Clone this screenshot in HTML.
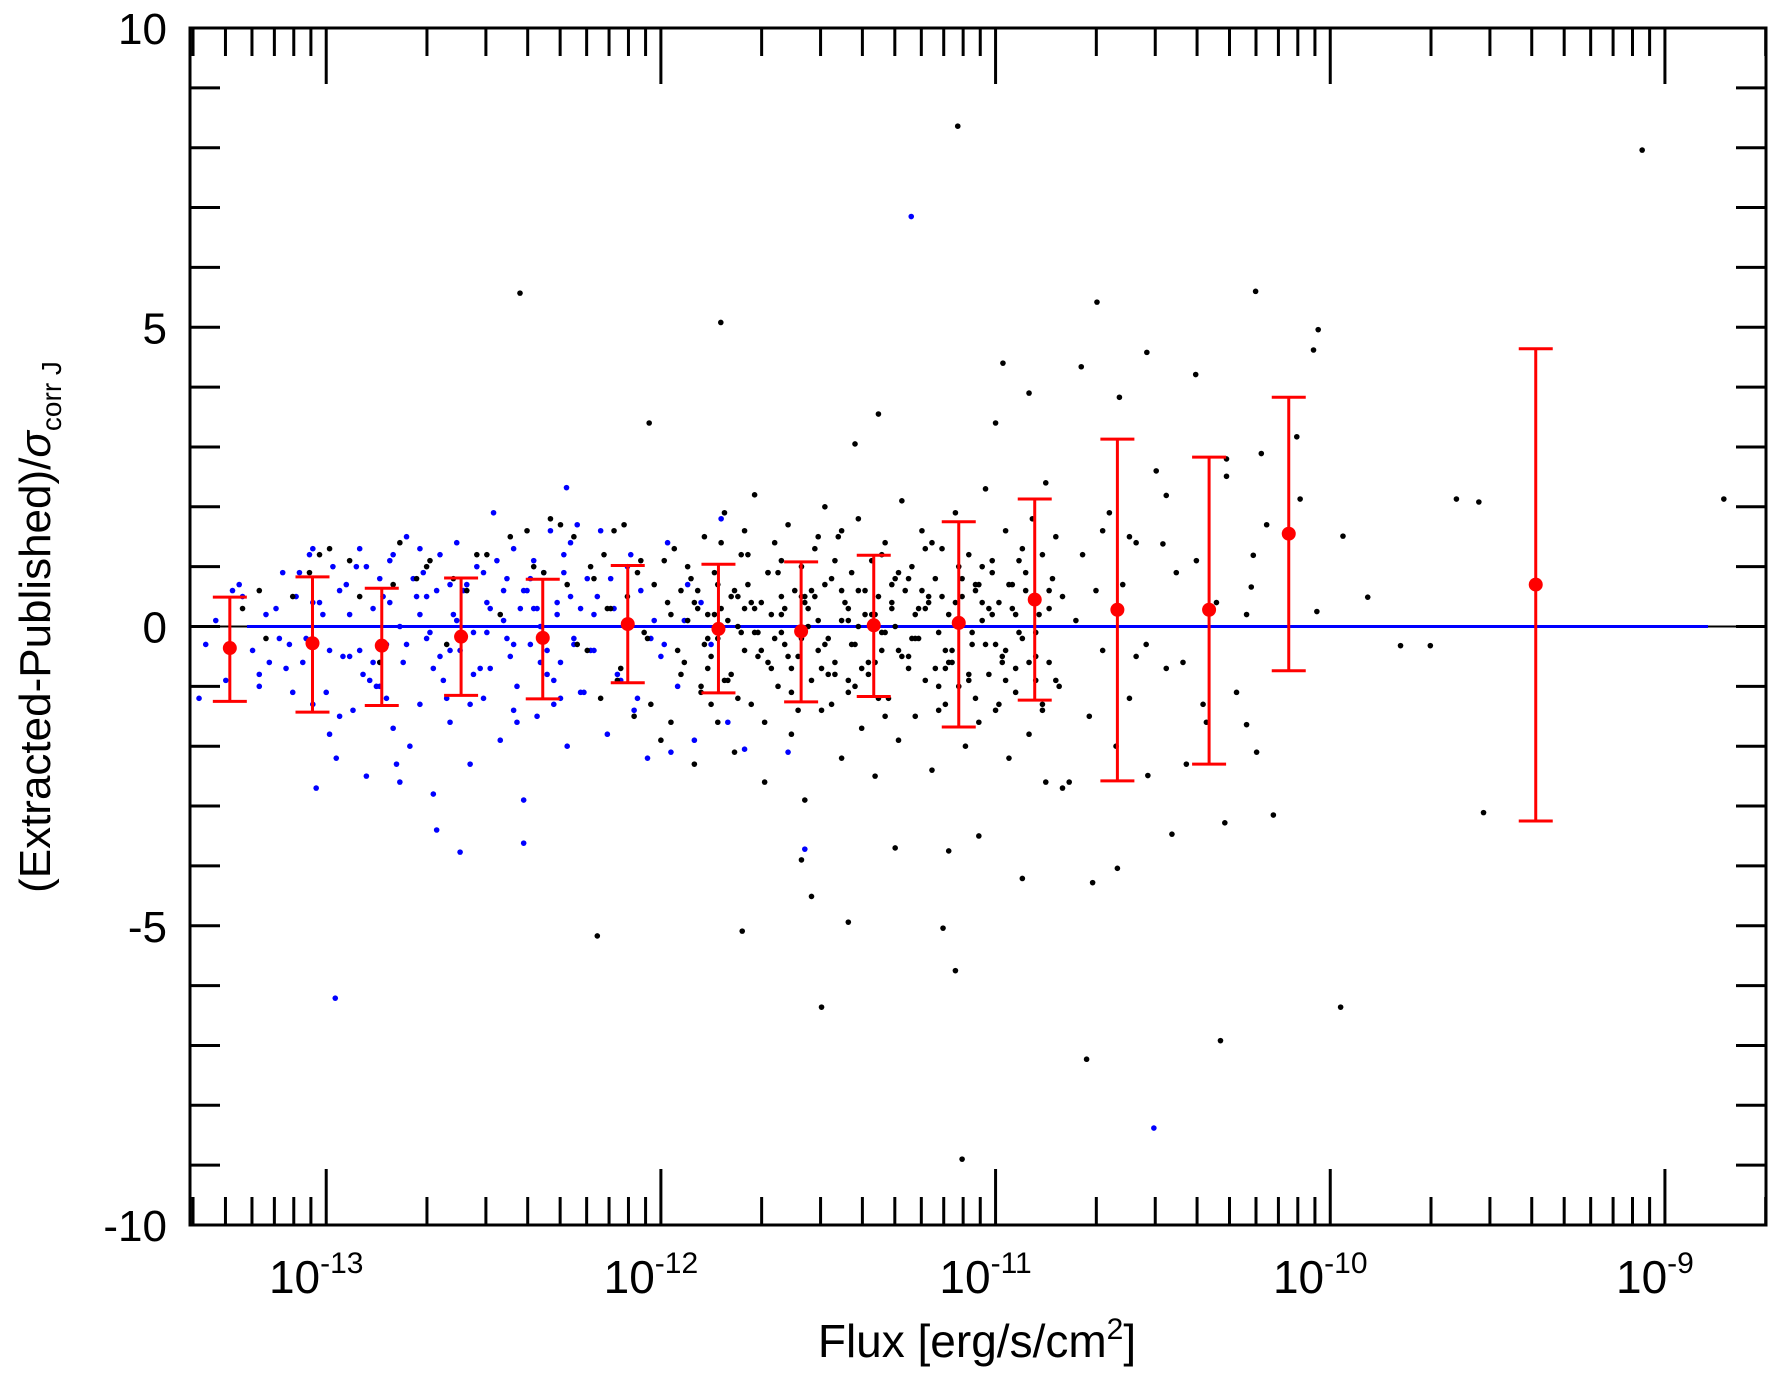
<!DOCTYPE html>
<html><head><meta charset="utf-8"><style>
body{margin:0;background:#fff}
svg{display:block}
text{font-family:"Liberation Sans",sans-serif;fill:#000}
</style></head><body>
<svg id="chart" width="1777" height="1382" viewBox="0 0 1777 1382" xmlns="http://www.w3.org/2000/svg">
<g id="bg"><rect x="0" y="0" width="1777" height="1382" fill="#fff"/></g>
<g id="zero"></g>
<g id="blue"></g>
<g id="black"></g>
<g id="bins"></g>
<g id="axes"></g>
<text x="977" y="1357" font-size="46" text-anchor="middle">Flux [erg/s/cm<tspan dy="-18" font-size="30">2</tspan><tspan dy="18">]</tspan></text>
<text transform="translate(50,627) rotate(-90)" font-size="44" text-anchor="middle">(Extracted-Published)/<tspan font-style="italic">σ</tspan><tspan dy="11" font-size="28">corr J</tspan></text>
</svg>
<script>
// ---- data ----
const binLogFlux=[-13.288,-13.041,-12.834,-12.597,-12.353,-12.099,-11.828,-11.581,-11.364,-11.110,-10.883,-10.636,-10.362,-10.124,-9.386];
const binMean=[-0.36,-0.28,-0.32,-0.17,-0.19,0.04,-0.04,-0.08,0.02,0.06,0.45,0.28,0.28,1.55,0.70];
const binHigh=[0.49,0.83,0.64,0.81,0.79,1.02,1.04,1.08,1.19,1.75,2.13,3.13,2.83,3.83,4.64];
const binLow=[-1.25,-1.43,-1.32,-1.15,-1.21,-0.94,-1.11,-1.26,-1.17,-1.68,-1.23,-2.58,-2.30,-0.74,-3.25];
// blue points as [log10 flux, residual]
const bluePts=[[-13.38,-1.2],[-13.36,-0.3],[-13.33,0.1],[-13.30,-0.9],[-13.28,0.6],[-13.25,0.5],[-13.22,-0.4],[-13.20,-1.0],[-13.18,0.2],[-13.15,0.3],[-13.12,-0.7],[-13.10,-1.1],[-13.08,0.9],[-13.06,-0.2],[-13.05,1.2],[-13.03,-2.7],[-13.02,0.4],[-13.00,-1.1],[-12.98,1.0],[-12.97,-2.2],[-12.95,-0.5],[-12.94,0.7],[-12.92,-1.4],[-12.90,1.3],[-12.89,-0.8],[-12.88,-2.5],[-12.86,0.3],[-12.85,-1.0],[-12.84,0.8],[-12.82,-0.3],[-12.81,1.1],[-12.80,-1.7],[-12.78,0.0],[-12.77,-0.6],[-12.76,1.5],[-12.75,-2.0],[-12.73,0.5],[-12.72,-1.3],[-12.71,0.9],[-12.70,-0.2],[-12.68,-2.8],[-12.67,0.6],[-12.66,1.2],[-12.65,-0.9],[-12.63,-1.6],[-12.62,0.2],[-12.61,1.4],[-12.60,-0.4],[-12.58,0.7],[-12.57,-2.3],[-12.56,-0.1],[-12.55,1.0],[-12.53,-1.2],[-12.52,0.4],[-12.51,-0.7],[-12.50,1.9],[-12.48,-1.9],[-12.47,0.1],[-12.46,0.8],[-12.45,-0.5],[-12.44,1.3],[-12.43,-1.0],[-12.42,0.3],[-12.41,-2.9],[-12.40,0.6],[-12.39,-0.3],[-12.38,1.1],[-12.37,-1.5],[-12.36,0.0],[-12.35,0.9],[-12.34,-0.8],[-12.33,1.6],[-12.32,-1.3],[-12.31,0.2],[-12.30,-0.6],[-12.29,1.2],[-12.28,-2.0],[-12.27,0.5],[-12.26,-0.2],[-12.25,1.7],[-12.24,-1.1],[-12.22,0.8],[-12.20,-0.4],[-12.18,1.6],[-12.16,-1.8],[-12.14,0.3],[-12.12,-0.9],[-12.10,1.0],[-12.08,-1.4],[-12.06,0.6],[-12.04,-2.2],[-12.02,0.1],[-12.00,-0.5],[-11.98,1.4],[-11.95,-1.0],[-11.92,0.7],[-11.90,-1.9],[-11.88,0.4],[-11.85,-0.3],[-11.82,1.8],[-11.80,-1.6],
[-13.13,0.9],[-13.07,-0.6],[-13.01,0.2],[-12.96,-1.5],[-12.91,1.0],[-12.87,-0.9],[-12.83,0.5],[-12.79,-2.3],[-12.74,0.8],[-12.69,-0.1],[-12.64,-1.2],[-12.59,0.6],[-12.54,-0.7],[-12.49,1.1],[-12.44,-1.4],[-12.38,0.3],[-12.34,-0.4],[-12.29,0.9],[-12.23,-1.1],[-12.19,0.5],[-12.13,-0.8],[-12.09,1.2],[-12.03,-0.2],[-11.97,-2.1],[-13.26,0.7],[-13.17,-0.6],[-13.11,-0.3],[-13.04,0.4],[-12.99,-1.8],[-12.93,-0.5],[-12.88,1.0],[-12.84,-1.0],[-12.78,-2.6],[-12.72,0.2],[-12.68,-0.7],[-12.63,0.7],[-12.57,-1.3],[-12.52,-0.1],[-12.47,0.6],[-12.43,-1.6],[-12.37,0.3],[-12.32,-0.9],[-12.27,1.4],[-12.21,-0.4],[-12.15,0.8],[-12.07,-1.2],[-11.99,-0.3],[-11.93,0.1],
[-13.14,-0.2],[-13.09,0.5],[-12.99,-0.4],[-12.93,0.2],[-12.86,-0.6],[-12.81,0.4],[-12.76,-0.3],[-12.70,0.5],[-12.66,-0.5],[-12.61,0.1],[-12.56,-0.8],[-12.51,0.3],[-12.46,-0.2],[-12.41,0.6],[-12.36,-0.6],[-12.31,0.4],[-12.26,-0.3],[-12.20,0.2],[-13.20,-0.8],[-13.04,-1.3],[-12.96,0.6],[-12.90,-0.4],[-12.82,-1.2],[-12.72,1.3],[-12.63,-0.4],[-12.53,0.9],[-12.44,-0.3],[-12.39,0.8],[-12.30,-1.2],[-12.24,0.3],
[-11.252,6.85],[-12.973,-6.21],[-12.282,2.32],[-12.41,-3.62],[-12.60,-3.77],[-12.67,-3.40],[-11.57,-3.72],[-10.527,-8.38],[-13.04,1.3],[-12.80,1.2],[-11.62,-2.1],[-11.75,-2.05]];
const blackPts=[[-13.25,0.3],[-13.18,-0.2],[-13.05,0.9],[-12.99,1.3],[-12.90,0.5],[-12.84,-0.6],[-12.78,1.4],[-12.73,0.8],[-12.69,1.1],[-12.64,-0.3],[-12.58,0.6],[-12.52,1.2],[-12.48,0.2],[-12.40,1.6],[-12.35,0.9],[-12.30,1.7],[-12.26,1.5],[-12.22,-0.4],[-12.20,0.8],[-12.18,-1.2],[-12.16,0.3],[-12.14,1.6],[-12.12,-0.7],[-12.10,0.5],[-12.08,-1.5],[-12.06,1.1],[-12.04,-0.2],[-12.02,0.7],[-12.00,-1.9],[-11.98,0.4],[-11.96,1.3],[-11.94,-0.8],[-11.92,0.1],[-11.90,-2.3],[-11.89,0.6],[-11.88,-1.1],[-11.87,1.5],[-11.86,0.2],[-11.85,-0.5],[-11.84,0.9],[-11.83,-1.6],[-11.82,0.3],[-11.81,1.9],[-11.80,-0.9],[-11.79,0.5],[-11.78,-2.1],[-11.77,0.0],[-11.76,1.2],[-11.75,-0.4],[-11.74,0.7],[-11.73,-1.3],[-11.72,2.2],[-11.71,-0.1],[-11.70,0.4],[-11.69,-2.6],[-11.68,0.9],[-11.67,-0.7],[-11.66,1.4],[-11.65,-1.0],[-11.64,0.2],[-11.63,-0.3],[-11.62,1.7],[-11.61,-1.8],[-11.60,0.6],[-11.59,-0.5],[-11.58,1.0],[-11.57,-2.9],[-11.56,0.3],[-11.55,-0.9],[-11.54,1.3],[-11.53,0.1],[-11.52,-1.4],[-11.51,2.0],[-11.50,-0.2],[-11.49,0.8],[-11.48,-0.6],[-11.47,1.5],[-11.46,-2.2],[-11.45,0.4],[-11.44,-1.1],[-11.43,0.9],[-11.42,-0.3],[-11.41,1.8],[-11.40,-1.7],[-11.39,0.2],[-11.38,-0.8],[-11.37,1.1],[-11.36,-2.5],[-11.35,0.5],[-11.34,-0.4],[-11.33,1.4],[-11.32,-1.2],[-11.31,0.7],[-11.30,0.0],[-11.29,-1.9],[-11.28,2.1],[-11.27,0.6],[-11.26,-0.7],[-11.25,1.0],[-11.24,-1.5],[-11.23,0.3],[-11.22,1.6],[-11.21,-0.9],[-11.20,0.4],[-11.19,-2.4],[-11.18,0.8],[-11.17,-0.1],[-11.16,1.3],[-11.15,-1.3],[-11.14,0.2],[-11.13,-0.6],[-11.12,1.9],[-11.11,-1.0],[-11.10,0.5],[-11.09,-2.0],[-11.08,1.2],[-11.07,-0.3],[-11.06,0.7],[-11.05,-1.6],[-11.04,0.1],[-11.03,2.3],[-11.02,-0.8],[-11.01,0.9],[-11.00,-1.4],[-10.99,0.4],[-10.98,-0.5],[-10.97,1.6],[-10.96,-2.2],[-10.95,0.3],[-10.94,-1.1],[-10.93,1.1],[-10.92,-0.2],[-10.91,0.6],[-10.90,-1.8],[-10.89,1.8],[-10.88,-0.9],[-10.87,0.2],[-10.86,-1.3],[-10.85,2.4],[-10.84,-0.6],[-10.83,0.8],[-10.82,1.5],[-10.81,-1.0],[-10.80,0.5],[-10.78,-2.6],[-10.76,0.1],[-10.74,1.2],[-10.72,-1.5],[-10.70,0.6],[-10.68,-0.4],[-10.66,1.9],[-10.64,-2.0],[-10.62,0.7],[-10.60,-1.2],[-10.58,1.4],[-10.55,-0.3],[-10.52,2.6],[-10.49,-0.7],[-10.46,0.9],[-10.43,-2.3],[-10.40,1.1],[-10.37,-1.6],[-10.34,0.4],[-10.31,2.8],[-10.28,-1.1],[-10.25,0.2],[-10.22,-2.1],[-10.19,1.7],
[-11.93,-0.6],[-11.91,0.8],[-11.87,-0.3],[-11.84,0.2],[-11.81,-0.9],[-11.78,0.6],[-11.76,-0.1],[-11.73,0.4],[-11.71,-0.5],[-11.68,0.9],[-11.66,-0.2],[-11.63,0.3],[-11.61,-0.7],[-11.58,0.5],[-11.56,0.0],[-11.53,-0.4],[-11.51,0.7],[-11.48,-0.8],[-11.46,0.1],[-11.43,-0.3],[-11.41,0.6],[-11.38,-0.6],[-11.36,0.2],[-11.33,-0.1],[-11.31,0.4],[-11.28,-0.5],[-11.26,0.8],[-11.23,-0.2],[-11.21,0.3],[-11.18,-0.7],[-11.16,0.5],[-11.13,-0.4],[-11.11,0.1],[-11.08,-0.9],[-11.06,0.6],[-11.03,-0.3],[-11.01,0.2],[-10.98,-0.6],[-10.96,0.7],[-10.93,-0.1],[-11.92,1.0],[-11.88,-1.0],[-11.83,0.7],[-11.79,-0.8],[-11.74,1.2],[-11.70,-0.4],[-11.65,0.9],[-11.61,-1.1],[-11.57,0.5],[-11.52,-0.7],[-11.48,1.1],[-11.44,-0.9],[-11.39,0.6],[-11.35,-1.2],[-11.30,0.8],[-11.26,-0.5],[-11.21,1.3],[-11.17,-1.0],[-11.12,0.4],[-11.08,-0.8],[-11.04,1.0],[-10.99,-1.3],[-10.95,0.7],[-10.90,-0.6],[-10.86,1.2],[-10.82,-0.9],[-11.95,-0.4],[-11.89,0.3],[-11.83,-0.2],[-11.77,0.5],[-11.72,-0.1],[-11.67,0.2],[-11.62,-0.5],[-11.57,0.4],[-11.51,-0.3],[-11.46,0.6],[-11.41,0.0],[-11.36,-0.6],[-11.31,0.3],[-11.25,-0.2],[-11.20,0.5],[-11.15,-0.4],[-11.10,0.1],[-11.05,0.7],[-11.00,-0.3],[-10.94,0.2],[-10.88,-0.1],
[-11.90,0.4],[-11.86,-0.7],[-11.82,1.4],[-11.77,-1.2],[-11.72,0.3],[-11.68,-0.6],[-11.64,1.1],[-11.59,-1.4],[-11.55,0.6],[-11.50,-0.8],[-11.46,1.6],[-11.42,-1.0],[-11.37,0.2],[-11.33,-1.5],[-11.29,0.9],[-11.24,-0.2],[-11.19,1.4],[-11.15,-0.7],[-11.10,0.8],[-11.06,-1.2],[-11.02,0.3],[-10.97,-0.9],[-10.92,1.3],[-10.88,-0.5],[-10.84,0.6],[-11.94,0.6],[-11.85,-1.3],[-11.80,0.1],[-11.75,1.6],[-11.69,-1.6],[-11.64,0.5],[-11.58,-0.2],[-11.53,1.5],[-11.49,-1.3],[-11.44,0.3],[-11.40,-0.7],[-11.34,1.2],[-11.29,-0.4],[-11.22,0.6],[-11.17,-1.4],[-11.11,1.0],[-11.07,-0.1],[-11.01,1.1],[-10.97,-0.4],[-10.91,0.9],[-10.86,-1.4],[-12.05,-0.1],[-12.15,0.3],[-12.25,-0.3],[-11.97,0.2],[-11.86,-0.2],[-11.75,0.3],[-11.64,-0.1],[-11.54,0.5],[-11.44,0.1],[-11.34,-0.1],[-11.24,0.2],[-11.14,-0.6],[-11.04,0.4],[-10.94,-0.7],[-10.84,0.3],
[-12.11,1.7],[-12.03,-1.3],[-11.99,1.1],[-12.13,-0.9],[-12.17,1.2],[-12.07,0.9],[-11.97,-1.6],[-12.21,1.0],[-12.28,0.7],[-12.33,1.8],[-12.38,1.0],[-12.45,1.5],[-12.55,1.2],[-12.62,0.8],[-12.70,1.0],[-12.80,0.7],[-12.93,1.1],[-13.02,1.2],[-13.10,0.5],[-13.20,0.6],
[-12.421,5.57],[-11.821,5.08],[-12.035,3.40],[-9.068,7.96],[-11.113,8.36],[-10.697,5.42],[-10.223,5.60],[-10.036,4.96],[-10.05,4.62],[-10.548,4.58],[-10.744,4.34],[-10.978,4.40],[-10.402,4.21],[-8.824,2.13],[-9.623,2.13],[-9.556,2.08],[-9.701,-0.32],[-9.542,-3.11],[-9.969,-6.36],[-10.328,-6.92],[-10.728,-7.23],[-11.10,-8.90],[-11.12,-5.75],[-11.157,-5.04],[-11.44,-4.94],[-11.52,-6.36],[-11.757,-5.09],[-11.55,-4.51],[-10.71,-4.28],[-10.636,-4.04],[-10.92,-4.21],[-10.473,-3.47],[-10.315,-3.28],[-10.17,-3.15],[-10.25,-1.64],[-10.545,-2.49],[-10.50,1.38],[-9.962,1.51],[-9.888,0.49],[-9.79,-0.32],[-10.04,0.25],[-10.236,0.66],[-10.10,3.17],[-10.31,2.51],[-10.49,2.19],[-10.63,3.83],[-10.206,2.89],[-10.09,2.13],[-10.23,1.19],[-11.35,3.55],[-11.00,3.40],[-10.90,3.90],[-11.42,3.05],[-11.58,-3.9],[-11.30,-3.7],[-11.14,-3.75],[-11.05,-3.5],[-10.85,-2.6],[-10.80,-2.7],[-12.19,-5.17],[-10.58,-0.5],[-10.44,-0.6],[-10.38,-1.3],[-10.60,1.5],[-10.68,1.6]];
// ---- scales ----
const L=190,R=1766,T=28,B=1225;
const xMin=-13.407,xMax=-8.698,yMin=-10,yMax=10;
const xs=v=>L+(v-xMin)/(xMax-xMin)*(R-L);
const ys=v=>B-(v-yMin)/(yMax-yMin)*(B-T);
const NS="http://www.w3.org/2000/svg";
function mk(tag,attrs,parent){const e=document.createElementNS(NS,tag);for(const k in attrs)e.setAttribute(k,attrs[k]);parent.appendChild(e);return e;}
const gZ=document.getElementById('zero'),gB=document.getElementById('blue'),gK=document.getElementById('black'),gN=document.getElementById('bins'),gA=document.getElementById('axes');
let ln=mk('line',{x1:L,x2:R,y1:ys(0),y2:ys(0),stroke:'#000','stroke-width':2},gZ);


ln=mk('line',{x1:247,x2:1708,y1:ys(0),y2:ys(0),stroke:'#0000ff','stroke-width':3},gZ);


bluePts.forEach(p=>{const c=mk('circle',{cx:xs(p[0]),cy:ys(p[1]),r:2.8,fill:'#0000ff'},gB);

});
blackPts.forEach(p=>{const c=mk('circle',{cx:xs(p[0]),cy:ys(p[1]),r:2.8,fill:'#000'},gK);

});
for(let i=0;i<binLogFlux.length;i++){const x=xs(binLogFlux[i]);const g=mk('g',{},gN);


mk('line',{x1:x,x2:x,y1:ys(binHigh[i]),y2:ys(binLow[i]),stroke:'#ff0000','stroke-width':3},g);
mk('line',{x1:x-17,x2:x+17,y1:ys(binHigh[i]),y2:ys(binHigh[i]),stroke:'#ff0000','stroke-width':3},g);
mk('line',{x1:x-17,x2:x+17,y1:ys(binLow[i]),y2:ys(binLow[i]),stroke:'#ff0000','stroke-width':3},g);
mk('circle',{cx:x,cy:ys(binMean[i]),r:7,fill:'#ff0000'},g);}
// axes
const fr=mk('rect',{x:L,y:T,width:R-L,height:B-T,fill:'none',stroke:'#000','stroke-width':3},gA);


const yTickLabels=[10,5,0,-5,-10];
for(let v=-10;v<=10;v++){const y=ys(v);
mk('line',{x1:L,x2:L+30,y1:y,y2:y,stroke:'#000','stroke-width':3},gA);
mk('line',{x1:R-30,x2:R,y1:y,y2:y,stroke:'#000','stroke-width':3},gA);}
yTickLabels.forEach(v=>{const t=mk('text',{x:167,y:ys(v)+16,'font-size':44,'text-anchor':'end'},gA);t.textContent=String(v);

});
const xDecades=[-13,-12,-11,-10,-9];
for(let d=-14;d<=-9;d++){for(let m=1;m<=9;m++){const lv=d+Math.log10(m);if(lv<xMin||lv>xMax)continue;const x=xs(lv);const len=m===1?56:28;
mk('line',{x1:x,x2:x,y1:B,y2:B-len,stroke:'#000','stroke-width':3},gA);
mk('line',{x1:x,x2:x,y1:T,y2:T+len,stroke:'#000','stroke-width':3},gA);}}
xDecades.forEach(d=>{const t=mk('text',{x:xs(d)-10,y:1293,'font-size':46,'text-anchor':'middle'},gA);


t.appendChild(document.createTextNode('10'));const s=document.createElementNS(NS,'tspan');s.setAttribute('dy','-20');s.setAttribute('font-size','30');s.textContent=String(d);t.appendChild(s);});
</script>
</body></html>
